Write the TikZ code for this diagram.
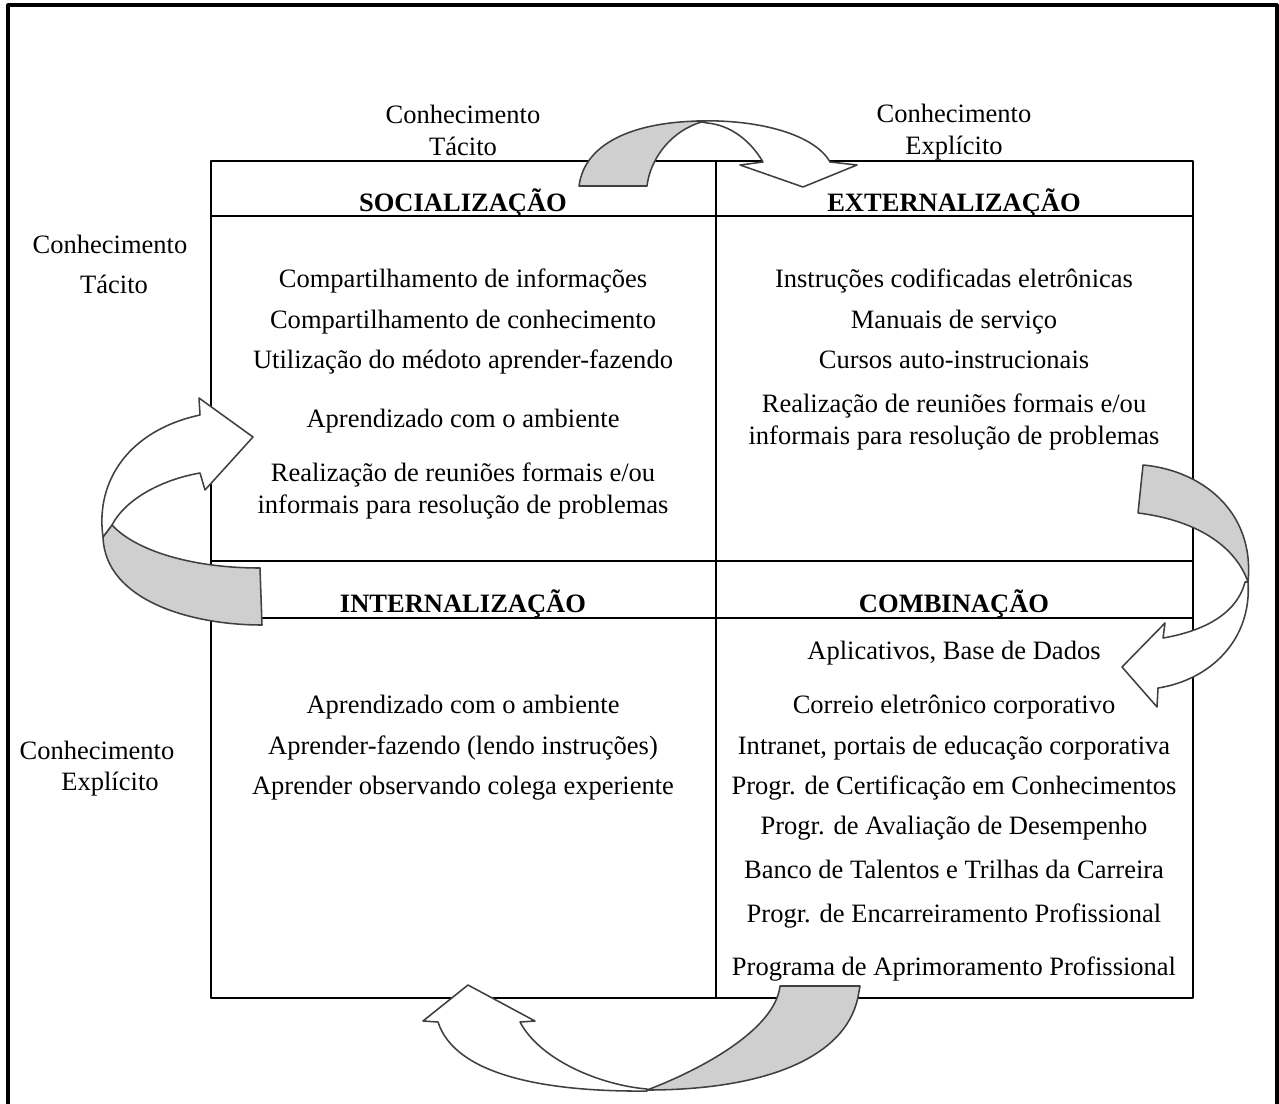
\documentclass[tikz,border=0pt]{standalone}
\usepackage{fontspec}
\setmainfont{Liberation Serif}
\begin{document}
\begin{tikzpicture}[line cap=round,line join=round,x=0.4525pt,y=-0.4525pt,
  txt/.style={font=\fontsize{12}{14.5}\selectfont,align=center,inner sep=0pt},
  ln/.style={txt,anchor=base},
  hdr/.style={font=\fontsize{12}{14.5}\selectfont\bfseries,inner sep=0pt},
  back/.style={draw=black!75,line width=0.7pt,fill=black!19},
  front/.style={draw=black!75,line width=0.7pt,fill=white}]
\useasboundingbox (0,0) rectangle (1279,1103);
% moldura
\draw [line width=1.4pt] (8,1115)-- (8,5)-- (1277,5)-- (1277,1115);
% quadro
\draw [line width=0.9pt] (211,161) rectangle (1193,998);
\draw [line width=0.9pt] (716,161)-- (716,998);
\draw [line width=0.9pt] (211,216)-- (1193,216);
\draw [line width=0.9pt] (211,561)-- (1193,561);
\draw [line width=0.9pt] (211,618)-- (1193,618);
% seta de cima
\draw [back] (579,186) .. controls (585,140) and (640,121) .. (705,121)
  .. controls (670,130) and (650,160) .. (647,186) -- cycle;
\draw [front] (697,121) .. controls (760,119) and (815,135) .. (830,162)
  -- (857,165) -- (803,187) -- (740,165) -- (763,162)
  .. controls (750,140) and (730,125) .. (707,123) -- cycle;
% seta da direita
\draw [back] (1143,465) .. controls (1200,470) and (1255,510) .. (1248,582)
  .. controls (1235,545) and (1195,520) .. (1138,513) -- cycle;
\draw [front] (1248,582) .. controls (1252,640) and (1210,680) .. (1158,688)
  -- (1157,707) -- (1122,667) -- (1165,623) -- (1163,638)
  .. controls (1210,630) and (1238,610) .. (1245,582) -- cycle;
% seta de baixo
\draw [back] (780,986) -- (860,986) -- (858,997)
  .. controls (845,1060) and (760,1090) .. (647,1090)
  .. controls (700,1070) and (775,1030) .. (780,986) -- cycle;
\draw [front] (647,1091) .. controls (545,1092) and (455,1075) .. (438,1022)
  -- (423,1021) -- (468,985) -- (535,1021) -- (520,1022)
  .. controls (540,1060) and (600,1085) .. (647,1089) -- cycle;
% seta da esquerda
\draw [back] (103,537) .. controls (105,600) and (190,625) .. (262,625)
  -- (260,568) .. controls (190,568) and (135,550) .. (112,525) -- cycle;
\draw [front] (103,537) .. controls (95,480) and (130,430) .. (200,415)
  -- (199,398) -- (253,437) -- (205,490) -- (200,473)
  .. controls (160,480) and (125,500) .. (112,525) -- cycle;
% rotulos de fora
\node[txt] (tacTop) at (463,130.5) {Conhecimento\\T\'acito};
\node[txt] (expTop) at (954,132.5) {Conhecimento\\Expl\'icito};
\node[ln] (conL1) at (110,253) {Conhecimento};
\node[ln] (tacL) at (114,293) {T\'acito};
\node[ln] (conL2) at (97,759) {Conhecimento};
\node[ln] (expL) at (110,790) {Expl\'icito};
% titulos
\node[hdr] (soc) at (463,203) {SOCIALIZA\c{C}\~AO};
\node[hdr] (ext) at (954,203) {EXTERNALIZA\c{C}\~AO};
\node[hdr] (int) at (463,604) {INTERNALIZA\c{C}\~AO};
\node[hdr] (com) at (954,604) {COMBINA\c{C}\~AO};
% socializacao
\node[ln] (s1) at (463,287) {Compartilhamento de informações};
\node[ln] (s2) at (463,328) {Compartilhamento de conhecimento};
\node[ln] (s3) at (463,368) {Utilização do médoto aprender-fazendo};
\node[ln] (s4) at (463,427) {Aprendizado com o ambiente};
\node[txt] (s5) at (463,491) {Realização de reuniões formais e/ou\\informais para resolução de problemas};
% externalizacao
\node[ln] (e1) at (954,287) {Instruções codificadas eletrônicas};
\node[ln] (e2) at (954,328) {Manuais de serviço};
\node[ln] (e3) at (954,368) {Cursos auto-instrucionais};
\node[txt] (e4) at (954,422) {Realização de reuniões formais e/ou\\informais para resolução de problemas};
% internalizacao
\node[ln] (i1) at (463,713) {Aprendizado com o ambiente};
\node[ln] (i2) at (463,754) {Aprender-fazendo (lendo instruções)};
\node[ln] (i3) at (463,794) {Aprender observando colega experiente};
% combinacao
\node[ln] (c1) at (954,659) {Aplicativos, Base de Dados};
\node[ln] (c2) at (954,713) {Correio eletrônico corporativo};
\node[ln] (c3) at (954,754) {Intranet, portais de educação corporativa};
\node[ln] (c4) at (954,794) {Progr. de Certificação em Conhecimentos};
\node[ln] (c5) at (954,834) {Progr. de Avaliação de Desempenho};
\node[ln] (c6) at (954,878) {Banco de Talentos e Trilhas da Carreira};
\node[ln] (c7) at (954,922) {Progr. de Encarreiramento Profissional};
\node[ln] (c8) at (954,975) {Programa de Aprimoramento Profissional};
\end{tikzpicture}
\end{document}
